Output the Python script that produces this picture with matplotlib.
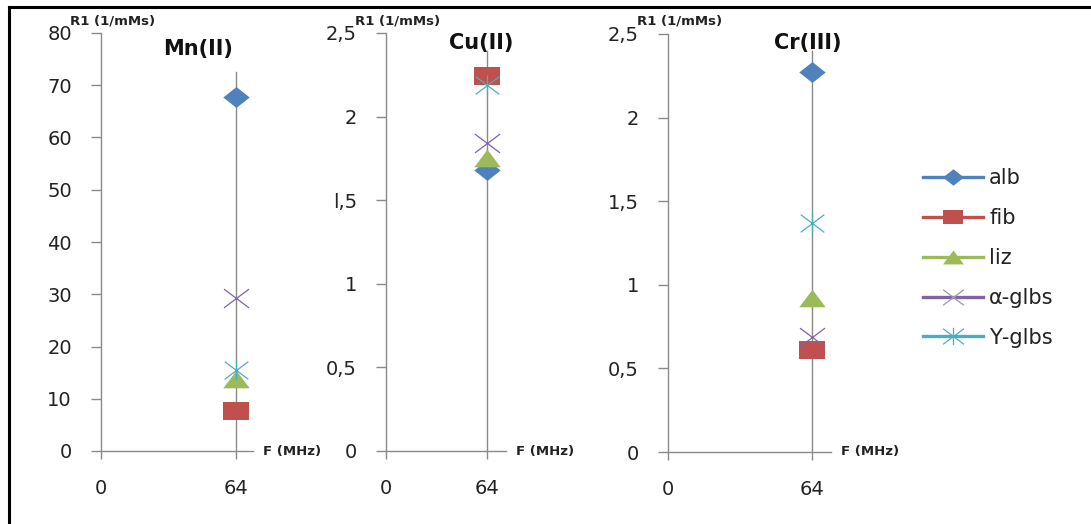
import numpy
import matplotlib
matplotlib.use("Agg")
from matplotlib import pyplot
from matplotlib.path import Path
from matplotlib.lines import Line2D

# data (one frequency, 64 MHz)
freq = 64
series = ["alb", "fib", "liz", "\u03b1-glbs", "\u03a5-glbs"]
ions = ["Mn(II)", "Cu(II)", "Cr(III)"]
mn_r1 = [67.8, 7.7, 13.8, 29.3, 15.5]
cu_r1 = [1.68, 2.24, 1.75, 1.84, 2.19]
cr_r1 = [2.27, 0.61, 0.92, 0.69, 1.37]
line_top = [72.5, 2.39, 2.40]
ylims = [80, 2.5, 2.5]
mn_ticks = [0, 10, 20, 30, 40, 50, 60, 70, 80]
r_ticks = [0, 0.5, 1, 1.5, 2, 2.5]
cu_labels = ["0", "0,5", "1", "l,5", "2", "2,5"]
cr_labels = ["0", "0,5", "1", "1,5", "2", "2,5"]

colors = ["#4F81BD", "#C0504D", "#9BBB59", "#8064A2", "#4BACC6"]
grey = "#8a8a8a"

# excel markers are a bit wider than tall
M, L, C = Path.MOVETO, Path.LINETO, Path.CLOSEPOLY
diamond = Path([(-1.2, 0), (0, 0.95), (1.2, 0), (0, -0.95), (-1.2, 0)], [M, L, L, L, C])
square = Path([(-1.2, -0.85), (1.2, -0.85), (1.2, 0.85), (-1.2, 0.85), (-1.2, -0.85)],
              [M, L, L, L, C])
triangle = Path([(-1.2, -0.8), (1.2, -0.8), (0, 0.8), (-1.2, -0.8)], [M, L, L, C])
cross = Path([(-1.2, -0.9), (1.2, 0.9), (-1.2, 0.9), (1.2, -0.9)], [M, L, M, L])
star = Path([(-1.2, -0.9), (1.2, 0.9), (-1.2, 0.9), (1.2, -0.9), (0, -1.0), (0, 1.0)],
            [M, L, M, L, M, L])
markers = [diamond, square, triangle, cross, star]
msizes = [19, 19, 19, 18, 17]
mew = [0, 0, 0, 0.9, 0.9]

W, H = 1091, 524
fig = pyplot.figure(figsize=(W / 100., H / 100.), dpi=100)


def px_axes(left, right, top, bottom):
    return fig.add_axes([left / W, 1 - bottom / H, (right - left) / W, (bottom - top) / H])


# pixel boxes of the three panels and the x extent of each
boxes = [(101, 253, 33, 451), (386, 506, 33, 451), (668, 831, 34, 452)]
xmaxes = [72.0, 76.0, 72.4]
values = [mn_r1, cu_r1, cr_r1]
tick_labels = [[str(t) for t in mn_ticks], cu_labels, cr_labels]
tick_pos = [mn_ticks, r_ticks, r_ticks]
title_xy = [(198, 49), (481, 43), (808, 43)]

for i in range(3):
    ax = px_axes(*boxes[i])
    ax.set_xlim(0, xmaxes[i])
    ax.set_ylim(0, ylims[i])
    for s in ["top", "right"]:
        ax.spines[s].set_visible(False)
    for s in ["left", "bottom"]:
        ax.spines[s].set_color(grey)
        ax.spines[s].set_linewidth(1.0)
    ax.set_xticks([0, freq])
    ax.set_xticklabels(["0", str(freq)])
    ax.set_yticks(tick_pos[i])
    ax.set_yticklabels(tick_labels[i])
    ax.tick_params(axis="y", direction="out", length=7, width=1, color=grey,
                   pad=14, labelsize=14, labelcolor="#222222")
    ax.tick_params(axis="x", direction="out", length=6, width=1, color=grey,
                   pad=14, labelsize=14, labelcolor="#222222")

    ax.plot([freq, freq], [0, line_top[i]], color=grey, lw=1, zorder=1)
    for j in range(len(series)):
        ax.plot([freq], [values[i][j]], linestyle="none", marker=markers[j],
                markersize=msizes[j], color=colors[j], mew=mew[j], zorder=3,
                clip_on=False)

    tx, ty = title_xy[i]
    fig.text(tx / W, 1 - ty / H, ions[i], ha="center", va="center",
             fontsize=15, fontweight="bold", color="#111111")

    l, r, t, b = boxes[i]
    fig.text((l - 31) / W, 1 - 21 / H, "R1 (1/mMs)", ha="left", va="center",
             fontsize=9.5, fontweight="bold", color="#222222")
    fig.text((r + 10) / W, 1 - b / H, "F (MHz)", ha="left", va="center",
             fontsize=9.5, fontweight="bold", color="#222222")

# legend
handles = []
for j in range(len(series)):
    handles.append(Line2D([], [], color=colors[j], lw=2.4, marker=markers[j],
                          markersize=15, markeredgewidth=mew[j],
                          markeredgecolor="#9a9aa8" if j == 3 else colors[j]))
leg = fig.legend(handles, series, loc="upper left",
                 bbox_to_anchor=(913 / W, 1 - 158 / H), frameon=False,
                 fontsize=15, handlelength=2.85, handletextpad=0.3,
                 labelspacing=0.95, borderpad=0)
for txt in leg.get_texts():
    txt.set_color("#222222")

# frame lines of the original figure
fig.add_artist(Line2D([9 / W, 1], [1 - 7 / H, 1 - 7 / H], color="black", lw=2.2))
fig.add_artist(Line2D([9 / W, 9 / W], [0, 1 - 7 / H], color="black", lw=2.2))

fig.savefig("out.png", dpi=100)
